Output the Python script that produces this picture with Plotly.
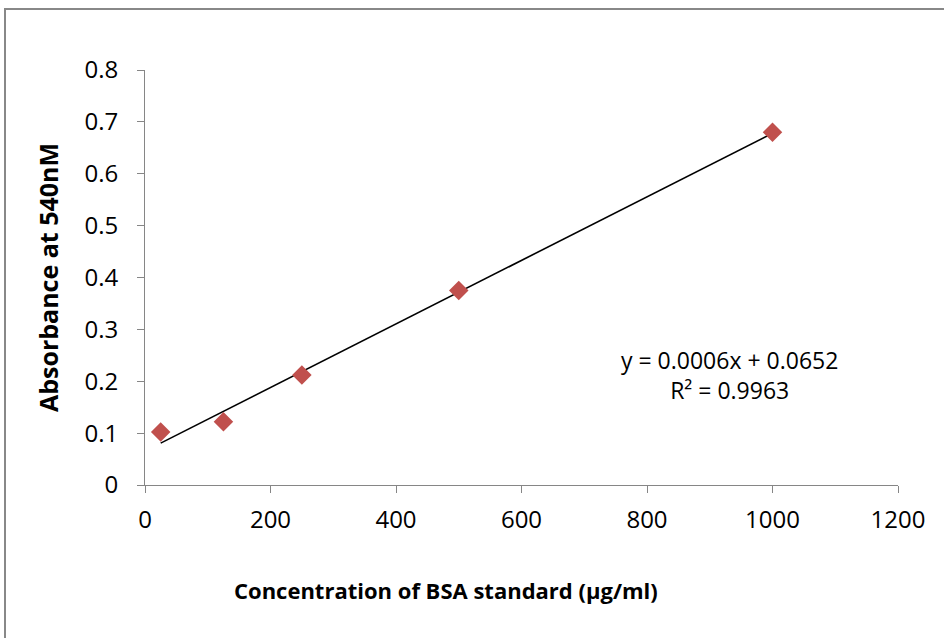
import numpy as np
import plotly.graph_objects as go

concentration = [25, 125, 250, 500, 1000]
absorbance = [0.102, 0.122, 0.212, 0.375, 0.680]
x_ticks = [0, 200, 400, 600, 800, 1000, 1200]
y_ticks = [0, 0.1, 0.2, 0.3, 0.4, 0.5, 0.6, 0.7, 0.8]
y_tick_labels = ["0", "0.1", "0.2", "0.3", "0.4", "0.5", "0.6", "0.7", "0.8"]
equation_text = "y = 0.0006x + 0.0652<br>R² = 0.9963"
x_title = "<b>Concentration of BSA standard (µg/ml)</b>"
y_title = "<b>Absorbance at 540nM</b>"

slope, intercept = np.polyfit(concentration, absorbance, 1)
fit_x = [min(concentration), max(concentration)]
fit_y = [slope * v + intercept for v in fit_x]

FONT = "'Open Sans', Lato, sans-serif"
W, H = 944, 638
ml, mr, mt, mb = 145, 46, 70, 153
pw, ph = W - ml - mr, H - mt - mb

fig = go.Figure()
fig.add_trace(go.Scatter(x=fit_x, y=fit_y, mode="lines",
                         line=dict(color="black", width=1.6), showlegend=False, hoverinfo="skip"))
fig.add_trace(go.Scatter(x=concentration, y=absorbance, mode="markers",
                         marker=dict(symbol="diamond", size=15, color="#C0504D"),
                         showlegend=False))

axis_common = dict(showgrid=False, zeroline=False, showline=True, linecolor="#868686", linewidth=1,
                   ticks="outside", ticklen=7, tickcolor="#868686",
                   tickfont=dict(family=FONT, size=24, color="black"))
fig.update_xaxes(range=[0, 1200], tickvals=x_ticks, ticklabelstandoff=6, **axis_common)
fig.update_yaxes(range=[0, 0.8], tickvals=y_ticks, ticktext=y_tick_labels, ticklabelstandoff=14,
                 **axis_common,
                 title=dict(text=y_title, font=dict(family=FONT, size=25, color="black"), standoff=18))

fig.add_annotation(x=(446 - ml) / pw, y=(485 - 590) / ph, xref="paper", yref="paper",
                   xanchor="center", yanchor="middle", text=x_title, showarrow=False,
                   font=dict(family=FONT, size=22, color="black"))

fig.add_annotation(x=(729 - ml) / pw, y=(485 - 375) / ph, xref="paper", yref="paper",
                   xanchor="center", yanchor="middle",
                   text=equation_text, showarrow=False, align="center",
                   font=dict(family=FONT, size=23, color="black"))

fig.add_shape(type="rect", xref="paper", yref="paper",
              x0=(5 - ml) / pw, x1=(960 - ml) / pw, y0=(485 - 660) / ph, y1=(485 - 9) / ph,
              line=dict(color="#888888", width=2), fillcolor="rgba(0,0,0,0)", layer="below")

fig.update_layout(width=W, height=H, margin=dict(l=ml, r=mr, t=mt, b=mb),
                  plot_bgcolor="white", paper_bgcolor="white", showlegend=False)
fig.write_html("out.html")
